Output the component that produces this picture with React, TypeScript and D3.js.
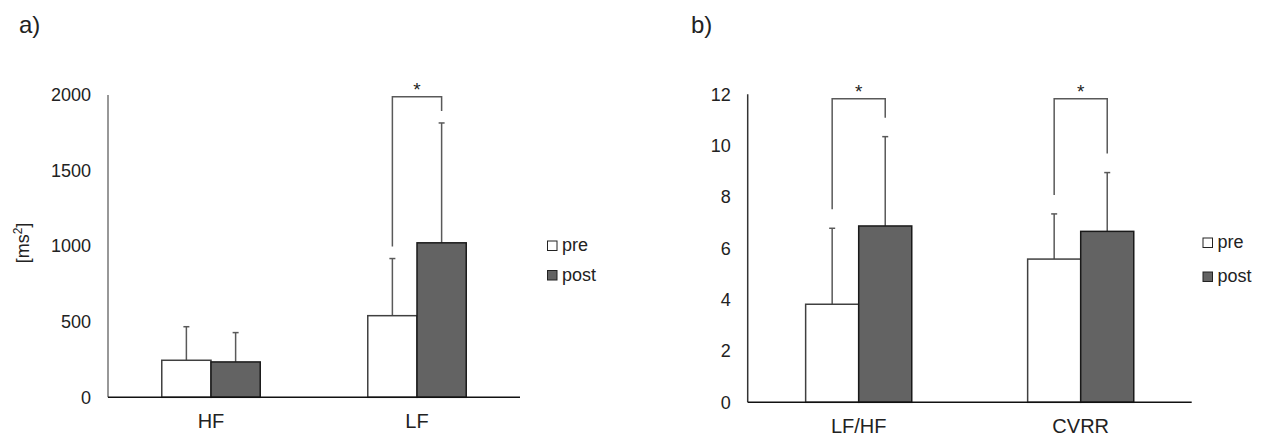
import * as d3 from 'd3'

// panel a) — power spectrum [ms²]
const catsA = ['HF', 'LF']
const preA = [245, 540]
const preSdA = [222, 378]
const postA = [234, 1022]
const postSdA = [194, 793]
const sigA = [false, true]
const ticksA = [0, 500, 1000, 1500, 2000]

// panel b) — ratio / CVRR
const catsB = ['LF/HF', 'CVRR']
const preB = [3.82, 5.58]
const preSdB = [2.96, 1.76]
const postB = [6.87, 6.66]
const postSdB = [3.48, 2.29]
const sigB = [true, true]
const ticksB = [0, 2, 4, 6, 8, 10, 12]

const seriesNames = ['pre', 'post']

const FONT = '"Liberation Sans", Arial, sans-serif'
const TXT = '#222'
const POST_FILL = '#636363'
const ERR = '#595959'

type PanelProps = {
  cats: string[]
  pre: number[]; preSd: number[]
  post: number[]; postSd: number[]
  sig: boolean[]
  ticks: number[]
  yMax: number
  bracketAt: number
  gap: number
  x0: number; x1: number; yTop: number; yZero: number
  axisColor: string
  tag: string; tagX: number
  legendX: number; legendY: [number, number]
  yLabel?: boolean
}

function Panel(p: PanelProps) {
  const x = d3.scaleBand().domain(p.cats).range([p.x0, p.x1]).padding(0)
  const y = d3.scaleLinear().domain([0, p.yMax]).range([p.yZero, p.yTop])
  const bw = x.bandwidth() * 0.239
  const cap = 3

  return (
    <g fontFamily={FONT}>
      <text x={p.tagX} y={33} fontSize={24} fill={TXT}>{p.tag}</text>

      {p.yLabel && (
        <text transform={`translate(29,243) rotate(-90)`} textAnchor="middle" fontSize={18} fill={TXT}>
          [ms<tspan dy={-7} fontSize={12}>2</tspan><tspan dy={7}>]</tspan>
        </text>
      )}

      {p.ticks.map(t => (
        <text key={t} x={p.x0 - 17} y={y(t)} dy="0.35em" textAnchor="end" fontSize={18} fill={TXT}>{t}</text>
      ))}

      {p.cats.map((c, i) => {
        const cx = x(c)! + x.bandwidth() / 2
        const preX = cx - bw / 2
        const postX = cx + bw / 2
        const preTop = y(p.pre[i] + p.preSd[i])
        const postTop = y(p.post[i] + p.postSd[i])
        const bY = y(p.bracketAt)
        return (
          <g key={c}>
            <line x1={preX} x2={preX} y1={y(p.pre[i])} y2={preTop} stroke={ERR} strokeWidth={1.5} />
            <line x1={preX - cap} x2={preX + cap} y1={preTop} y2={preTop} stroke={ERR} strokeWidth={1.5} />
            <line x1={postX} x2={postX} y1={y(p.post[i])} y2={postTop} stroke={ERR} strokeWidth={1.5} />
            <line x1={postX - cap} x2={postX + cap} y1={postTop} y2={postTop} stroke={ERR} strokeWidth={1.5} />
            <rect x={cx - bw} y={y(p.pre[i])} width={bw} height={p.yZero - y(p.pre[i])}
              fill="#fff" stroke="#404040" strokeWidth={1.5} />
            <rect x={cx} y={y(p.post[i])} width={bw} height={p.yZero - y(p.post[i])}
              fill={POST_FILL} stroke="#1a1a1a" strokeWidth={1.5} />
            {p.sig[i] && (
              <g>
                <path d={`M${preX},${preTop - p.gap}V${bY}H${postX}V${postTop - p.gap}`}
                  fill="none" stroke={ERR} strokeWidth={1.5} />
                <text x={cx} y={bY - 1} textAnchor="middle" fontSize={19} fill={TXT}>*</text>
              </g>
            )}
            <text x={cx} y={p.yZero + 30.5} textAnchor="middle" fontSize={20} fill={TXT}>{c}</text>
          </g>
        )
      })}

      <line x1={p.x0} x2={p.x0} y1={p.yTop} y2={p.yZero} stroke={p.axisColor} strokeWidth={1.5} />
      <line x1={p.x0} x2={p.x1} y1={p.yZero} y2={p.yZero} stroke="#111" strokeWidth={1.5} />

      {seriesNames.map((s, i) => (
        <g key={s}>
          <rect x={p.legendX} y={p.legendY[i]} width={9.5} height={9.5}
            fill={i === 0 ? '#fff' : POST_FILL} stroke="#222" strokeWidth={1} />
          <text x={p.legendX + 14.5} y={p.legendY[i] + 10} fontSize={18} fill={TXT}>{s}</text>
        </g>
      ))}
    </g>
  )
}

export default function App() {
  return (
    <svg width={1266} height={436} style={{ position: 'absolute', left: 0, top: 0, background: '#fff' }}>
      <Panel cats={catsA} pre={preA} preSd={preSdA} post={postA} postSd={postSdA} sig={sigA}
        ticks={ticksA} yMax={2000} bracketAt={1988} gap={12}
        x0={108} x1={520} yTop={95} yZero={397.3} axisColor="#767676"
        tag="a)" tagX={19} legendX={547.5} legendY={[241, 270.5]} yLabel />
      <Panel cats={catsB} pre={preB} preSd={preSdB} post={postB} postSd={postSdB} sig={sigB}
        ticks={ticksB} yMax={12} bracketAt={11.83} gap={19}
        x0={747.7} x1={1191.7} yTop={94.3} yZero={402.3} axisColor="#333"
        tag="b)" tagX={691} legendX={1203} legendY={[238, 272]} />
    </svg>
  )
}
